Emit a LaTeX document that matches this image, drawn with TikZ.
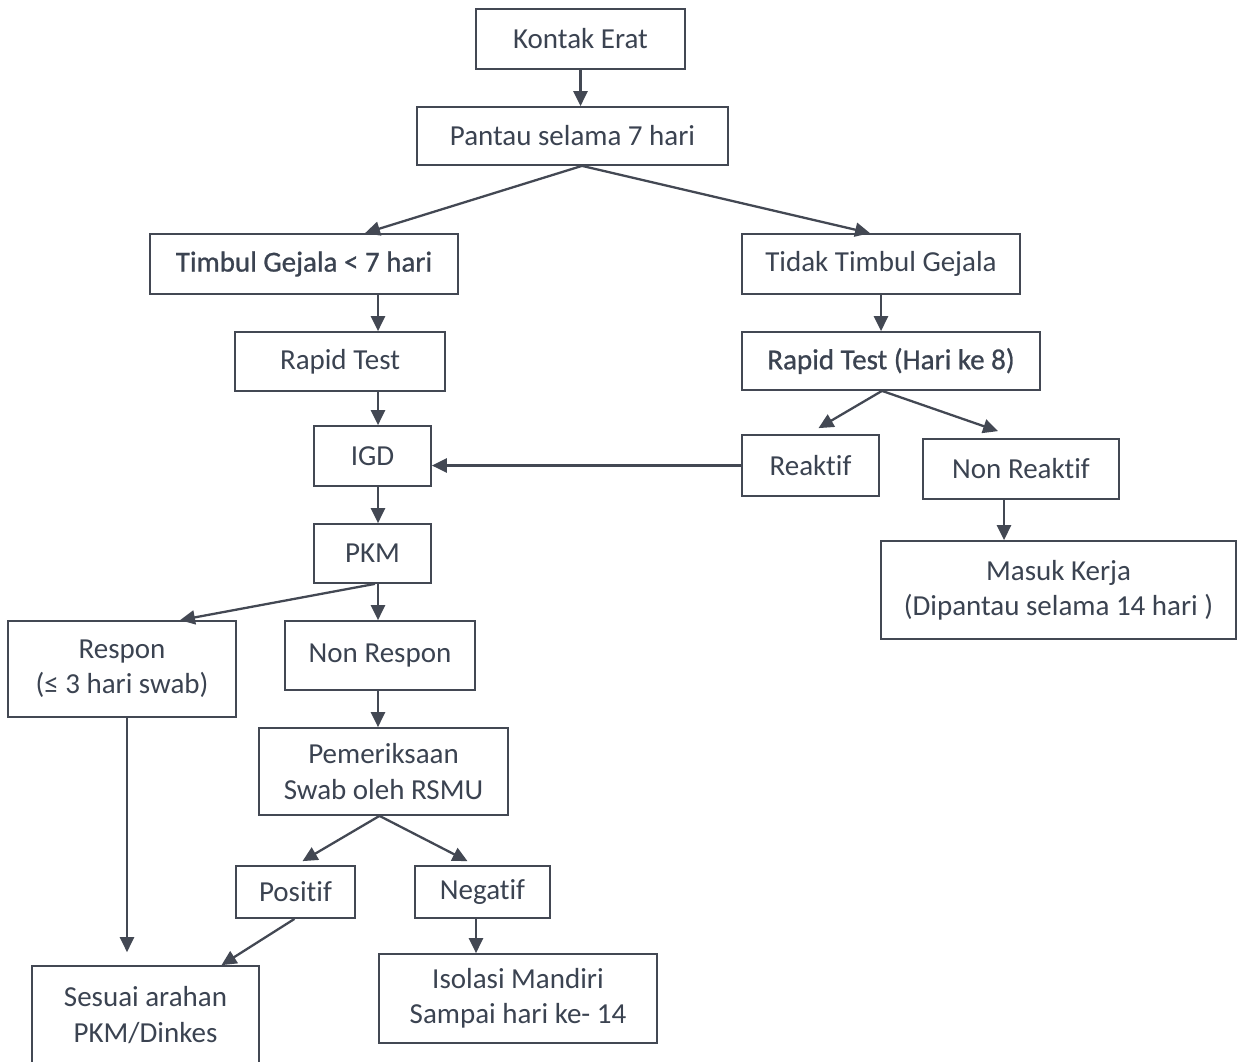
\documentclass[tikz,border=0pt]{standalone}
\usepackage{fontspec}
\setmainfont{Carlito}[Ligatures=NoCommon,RawFeature={-liga,-clig,-dlig}]
\usetikzlibrary{arrows.meta,calc}
\definecolor{txt}{HTML}{3B4351}
\definecolor{ln}{HTML}{434853}
\begin{document}
\begin{tikzpicture}[x=0.02cm,y=-0.02cm,
  box/.style={draw=ln, line width=1pt, text=txt, align=center, inner sep=0pt,
    font=\fontsize{16.5}{20}\selectfont},
  boldbox/.style={box, font=\fontsize{16.5}{20}\selectfont\addfontfeature{FakeBold=0.8}},
  arr/.style={draw=ln, line width=1.3pt, -{Triangle[length=8.5pt,width=8pt]}}]
\useasboundingbox (0,0) rectangle (1239,1061);
\fill[white] (0,0) rectangle (1239,1061);
% nodes
\node[box, minimum width=4.18cm, minimum height=1.2cm] (ke) at (580.5,39) {Kontak Erat};
\node[box, minimum width=6.22cm, minimum height=1.16cm] (pantau) at (572.5,136) {Pantau selama 7 hari};
\node[boldbox, minimum width=6.16cm, minimum height=1.2cm] (timbul) at (304,264) {Timbul Gejala < 7 hari};
\node[box, minimum width=5.56cm, minimum height=1.2cm] (tidak) at (881,264) {Tidak Timbul Gejala};
\node[box, minimum width=4.2cm, minimum height=1.18cm] (rapid) at (340,361.5) {Rapid Test};
\node[boldbox, minimum width=5.96cm, minimum height=1.16cm] (rapid8) at (891,361) {Rapid Test (Hari ke 8)};
\node[box, minimum width=2.34cm, minimum height=1.2cm] (igd) at (372.5,456) {IGD};
\node[box, minimum width=2.74cm, minimum height=1.22cm] (reaktif) at (810.5,465.5) {Reakt\kern0pt if};
\node[box, minimum width=3.92cm, minimum height=1.2cm] (nonreak) at (1021,469) {Non Reakt\kern0pt if};
\node[box, minimum width=7.1cm, minimum height=1.96cm] (masuk) at (1058.5,590) {Masuk Kerja\\(Dipantau selama 14 hari )};
\node[box, minimum width=2.34cm, minimum height=1.18cm] (pkm) at (372.5,553.5) {PKM};
\node[box, minimum width=4.56cm, minimum height=1.92cm] (respon) at (122,669) {Respon\\(≤ 3 hari swab)};
\node[box, minimum width=3.8cm, minimum height=1.38cm] (nonresp) at (380,655.5) {Non Respon};
\node[box, minimum width=4.98cm, minimum height=1.74cm] (pemer) at (383.5,771.5) {Pemeriksaan\\Swab oleh RSMU};
\node[box, minimum width=2.38cm, minimum height=1.04cm] (positif) at (295.5,892) {Posit\kern0pt if};
\node[box, minimum width=2.7cm, minimum height=1.04cm] (negatif) at (482.5,892) {Negat\kern0pt if};
\node[box, minimum width=4.54cm, minimum height=1.96cm] (sesuai) at (145.5,1015) {Sesuai arahan\\PKM/Dinkes};
\node[box, minimum width=5.56cm, minimum height=1.78cm] (isolasi) at (518,998.5) {Isolasi Mandiri\\Sampai hari ke- 14};
% column helpers
\coordinate (cB) at (378,0);
\coordinate (cD) at (1004,0);
\coordinate (cE) at (127,0);
\coordinate (cF) at (476,0);
% connectors
\draw[arr] (ke.south) -- (ke.south |- pantau.north);
\draw[arr] ($(pantau.south)+(9.5,0)$) -- ($(timbul.north)+(61,0)$);
\draw[arr] ($(pantau.south)+(9.5,0)$) -- ($(tidak.north)+(-11,0)$);
\draw[arr] (timbul.south -| cB) -- (rapid.north -| cB);
\draw[arr] (tidak.south) -- (tidak.south |- rapid8.north);
\draw[arr] (rapid.south -| cB) -- (igd.north -| cB);
\draw[arr] ($(rapid8.south)+(-9,0)$) -- ($(reaktif.north)+(8,-6)$);
\draw[arr] ($(rapid8.south)+(-9,0)$) -- ($(nonreak.north)+(-23,-7)$);
\draw[arr] (reaktif.west) -- (reaktif.west -| igd.east);
\draw[arr] (nonreak.south -| cD) -- (masuk.north -| cD);
\draw[arr] (igd.south -| cB) -- (pkm.north -| cB);
\draw[arr] ($(pkm.south)+(2.5,0)$) -- ($(respon.north)+(58,0)$);
\draw[arr] (pkm.south -| cB) -- (nonresp.north -| cB);
\draw[arr] (nonresp.south -| cB) -- (pemer.north -| cB);
\draw[arr, shorten >=0.26cm] (respon.south -| cE) -- (sesuai.north -| cE);
\draw[arr] ($(pemer.south)+(-4,0)$) -- ($(positif.north)+(7,-4)$);
\draw[arr] ($(pemer.south)+(-4,0)$) -- ($(negatif.north)+(-15,-4)$);
\draw[arr] ($(positif.south)+(-1,0)$) -- ($(sesuai.north)+(76,0)$);
\draw[arr] (negatif.south -| cF) -- (isolasi.north -| cF);
\end{tikzpicture}
\end{document}
